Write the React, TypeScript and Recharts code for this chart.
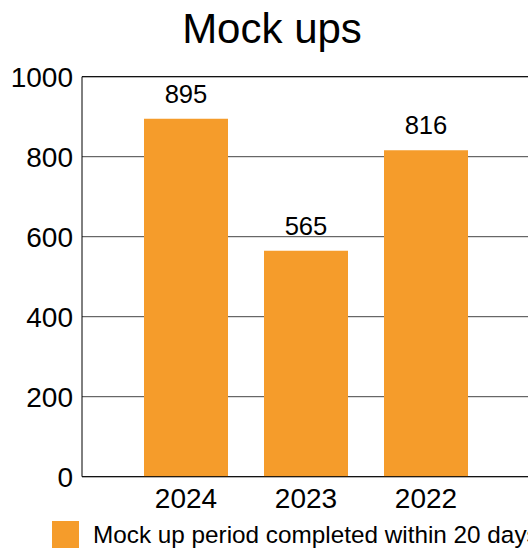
import { Bar, BarChart, CartesianGrid, LabelList, Legend, ReferenceLine, XAxis, YAxis } from 'recharts';

const YEARS = ['2024', '2023', '2022'];
const MOCKUPS = [895, 565, 816];
const Y_TICKS = [0, 200, 400, 600, 800, 1000];
const SERIES_NAME = 'Mock up period completed within 20 days';
const TITLE = 'Mock ups';

const ORANGE = '#F59C2B';
const FONT = '"Liberation Sans", Arial, sans-serif';

const chartData = YEARS.map((year, i) => ({ year, value: MOCKUPS[i] }));

const renderLegend = () => (
  <div style={{ display: 'flex', alignItems: 'center', height: 29, whiteSpace: 'nowrap' }}>
    <span style={{ display: 'inline-block', width: 27, height: 27, background: ORANGE, marginRight: 14 }} />
    <span style={{ fontSize: 24.3, color: '#000', fontFamily: FONT }}>{SERIES_NAME}</span>
  </div>
);

export default function App() {
  return (
    <div style={{ position: 'fixed', left: 0, top: 0, width: 528, height: 549, overflow: 'hidden', background: '#fff' }}>
      <div
        style={{
          position: 'absolute',
          top: 7.5,
          left: 0,
          width: 544,
          textAlign: 'center',
          fontFamily: FONT,
          fontSize: 42,
          lineHeight: '42px',
          color: '#000',
        }}
      >
        {TITLE}
      </div>
      <BarChart
        width={544}
        height={549}
        data={chartData}
        margin={{ top: 76.7, right: 10, bottom: 0, left: 0 }}
        style={{ fontFamily: FONT }}
      >
        <CartesianGrid vertical={false} stroke="#444" />
        <ReferenceLine y={1000} stroke="#000" />
        <XAxis
          dataKey="year"
          height={43.3}
          padding={{ left: 44, right: 48 }}
          tickLine={false}
          tickSize={6}
          tickMargin={5}
          axisLine={{ stroke: '#000' }}
          tick={{ fill: '#000', fontSize: 28 }}
        />
        <YAxis
          width={82}
          domain={[0, 1000]}
          ticks={Y_TICKS}
          interval={0}
          tickLine={false}
          tickSize={6}
          tickMargin={3}
          axisLine={{ stroke: '#000' }}
          tick={{ fill: '#000', fontSize: 28 }}
        />
        <Legend verticalAlign="bottom" content={renderLegend} wrapperStyle={{ left: 52, width: 'auto' }} />
        <Bar dataKey="value" name={SERIES_NAME} fill={ORANGE} barSize={84} isAnimationActive={false}>
          <LabelList dataKey="value" position="top" offset={16} fill="#000" fontSize={25.6} />
        </Bar>
      </BarChart>
    </div>
  );
}
